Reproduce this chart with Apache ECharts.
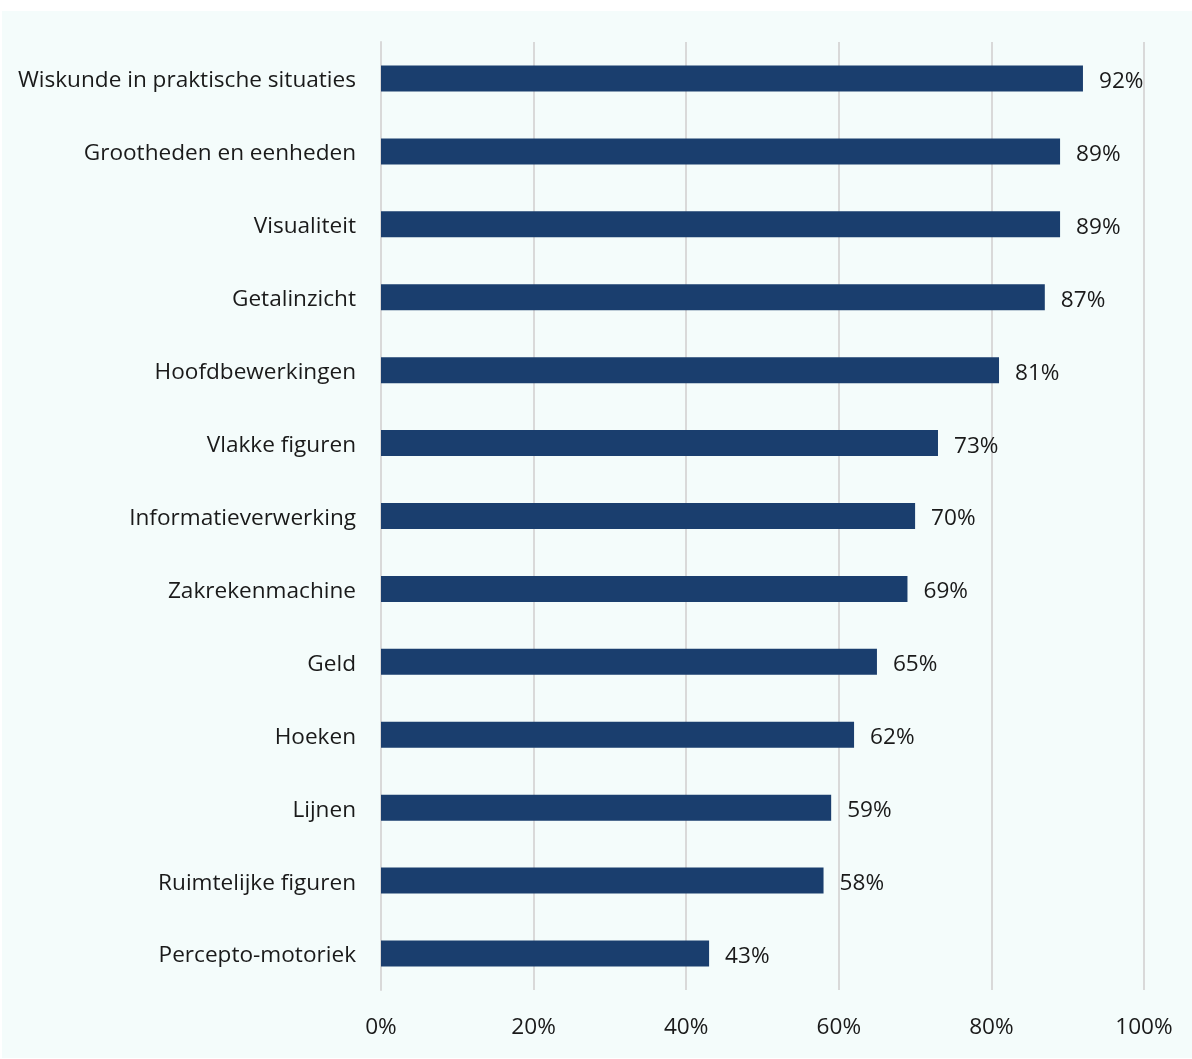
<!DOCTYPE html>
<html>
<head>
<meta charset="utf-8">
<script src="https://cdn.jsdelivr.net/npm/echarts@6/dist/echarts.min.js"></script>
<style>
  html, body { margin: 0; padding: 0; background: #ffffff; }
  #panel { position: absolute; left: 2px; top: 11px; width: 1190px; height: 1047px; background: #f4fcfb; }
  #chart { width: 1190px; height: 1047px; }
</style>
</head>
<body>
<div id="panel"><div id="chart"></div></div>
<script>
// Domains, listed top to bottom
const categories = [
  'Wiskunde in praktische situaties',
  'Grootheden en eenheden',
  'Visualiteit',
  'Getalinzicht',
  'Hoofdbewerkingen',
  'Vlakke figuren',
  'Informatieverwerking',
  'Zakrekenmachine',
  'Geld',
  'Hoeken',
  'Lijnen',
  'Ruimtelijke figuren',
  'Percepto-motoriek'
];
// Share per domain (%)
const values = [92, 89, 89, 87, 81, 73, 70, 69, 65, 62, 59, 58, 43];
const xTicks = [0, 20, 40, 60, 80, 100];

const FONT = '"Open Sans", "Noto Sans", sans-serif';
const FS = 22.6;
const chart = echarts.init(document.getElementById('chart'));
chart.setOption({
  animation: false,
  textStyle: { fontFamily: FONT },
  grid: { left: 379, right: 48, top: 31, bottom: 68, containLabel: false },
  xAxis: {
    type: 'value',
    min: xTicks[0],
    max: xTicks[xTicks.length - 1],
    interval: 20,
    axisLine: { show: false },
    axisTick: { show: false },
    splitLine: { show: true, lineStyle: { color: '#d9d9d9', width: 2 } },
    axisLabel: { formatter: '{value}%', fontSize: FS, color: '#1a1a1a', margin: 26, fontFamily: FONT }
  },
  yAxis: {
    type: 'category',
    data: categories,
    inverse: true,
    axisLine: { show: true, lineStyle: { color: '#d9d9d9', width: 2 } },
    axisTick: { show: false },
    axisLabel: {
      margin: 25,
      formatter: (v) => '{c|' + v + '}',
      rich: { c: { fontSize: FS, color: '#1a1a1a', fontFamily: FONT, padding: [5, 0, 0, 0] } }
    }
  },
  series: [{
    type: 'bar',
    data: values,
    barWidth: 26,
    itemStyle: { color: '#1a3e6e' },
    label: {
      show: true,
      position: 'right',
      distance: 16,
      formatter: '{c}%',
      fontSize: FS,
      color: '#1a1a1a',
      fontFamily: FONT,
      offset: [0, 3]
    }
  }]
});
</script>
</body>
</html>
